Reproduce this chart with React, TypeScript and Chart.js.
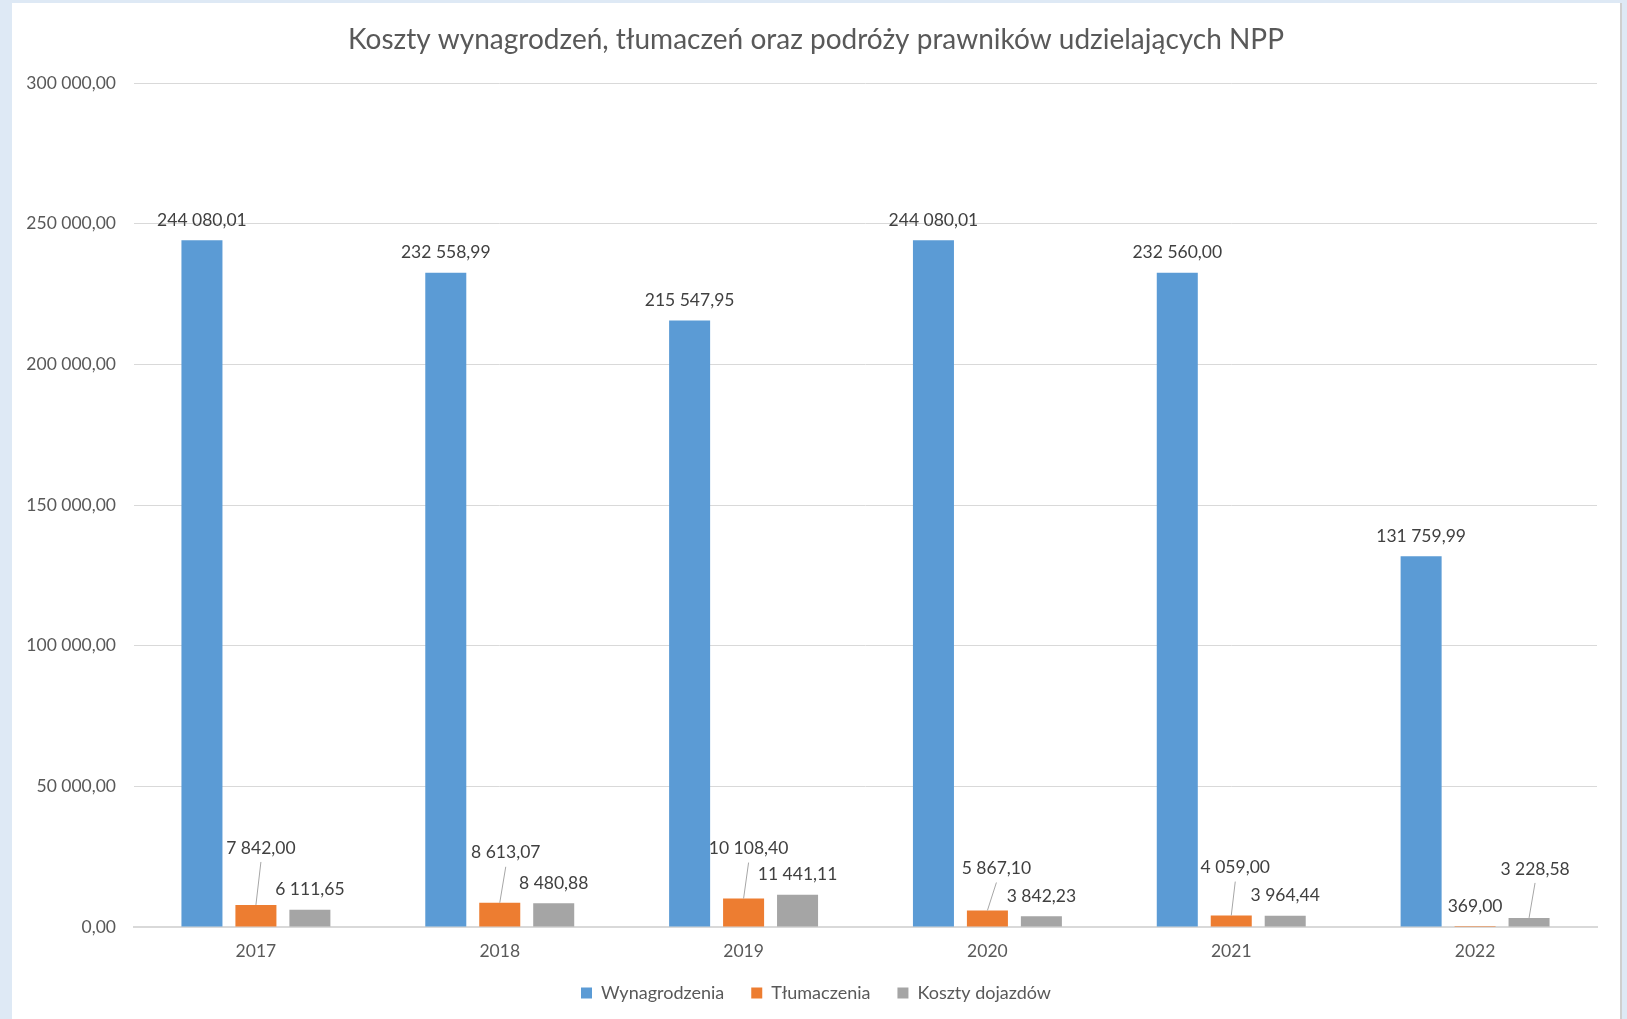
import React, { useEffect, useRef } from "react";
import { Chart, registerables } from "chart.js";

Chart.register(...registerables);

// ---------- data ----------
const chartTitle = "Koszty wynagrodzeń, tłumaczeń oraz podróży prawników udzielających NPP";
const categories = ["2017", "2018", "2019", "2020", "2021", "2022"];
const seriesNames = ["Wynagrodzenia", "Tłumaczenia", "Koszty dojazdów"];
const wynagrodzenia = [244080.01, 232558.99, 215547.95, 244080.01, 232560.0, 131759.99];
const tlumaczenia = [7842.0, 8613.07, 10108.4, 5867.1, 4059.0, 369.0];
const kosztyDojazdow = [6111.65, 8480.88, 11441.11, 3842.23, 3964.44, 3228.58];
const yMin = 0;
const yMax = 300000;
const yStep = 50000;

// ---------- styling ----------
const seriesColors = ["#5b9bd5", "#ed7d31", "#a5a5a5"];
const FONT = "Lato, 'Open Sans', sans-serif";
const AXIS_COLOR = "#595959";
const LABEL_COLOR = "#404040";
const GRID_COLOR = "#d9d9d9";

// label displacement (dx, dy from bar top) for labels moved with a leader line
const labelShifts: Record<string, [number, number]> = {
  "1-0": [5, -57],
  "1-1": [6, -50],
  "1-2": [5, -50],
  "1-3": [9, -42],
  "1-4": [4, -48],
  "2-5": [6, -49],
};

function fmtPL(v: number): string {
  const neg = v < 0;
  const [i, d] = Math.abs(v).toFixed(2).split(".");
  const g = i.replace(/\B(?=(\d{3})+(?!\d))/g, " ");
  return (neg ? "-" : "") + g + "," + d;
}

const dataLabelPlugin = {
  id: "dataLabelPlugin",
  afterDatasetsDraw(chart: any) {
    const ctx = chart.ctx;
    ctx.save();
    ctx.font = `17.5px ${FONT}`;
    ctx.fillStyle = LABEL_COLOR;
    ctx.textAlign = "center";
    ctx.textBaseline = "middle";
    chart.data.datasets.forEach((ds: any, di: number) => {
      const meta = chart.getDatasetMeta(di);
      meta.data.forEach((bar: any, i: number) => {
        const v = ds.data[i];
        const shift = labelShifts[`${di}-${i}`];
        let lx = bar.x;
        let ly = bar.y - 20;
        if (shift) {
          lx = bar.x + shift[0];
          ly = bar.y + shift[1];
          ctx.strokeStyle = "#a6a6a6";
          ctx.lineWidth = 1;
          ctx.beginPath();
          ctx.moveTo(lx, ly + 14);
          ctx.lineTo(bar.x, bar.y);
          ctx.stroke();
        }
        ctx.fillText(fmtPL(v), lx, ly);
      });
    });
    ctx.restore();
  },
};

export default function App() {
  const canvasRef = useRef<HTMLCanvasElement | null>(null);

  useEffect(() => {
    if (!canvasRef.current) return;
    const seriesData = [wynagrodzenia, tlumaczenia, kosztyDojazdow];
    const chart = new Chart(canvasRef.current, {
      type: "bar",
      data: {
        labels: categories,
        datasets: seriesNames.map((name, k) => ({
          label: name,
          data: seriesData[k],
          backgroundColor: seriesColors[k],
          borderWidth: 0,
          categoryPercentage: 0.664,
          barPercentage: 0.76,
          yAxisID: "y",
        })),
      },
      options: {
        responsive: false,
        maintainAspectRatio: false,
        animation: false,
        layout: { padding: { left: 0, right: 0, top: 0, bottom: 7 } },
        plugins: {
          title: {
            display: true,
            text: chartTitle,
            color: AXIS_COLOR,
            font: { family: FONT, size: 28, weight: "normal" },
            padding: { top: 20, bottom: 26.4 },
          },
          legend: {
            position: "bottom",
            labels: {
              boxWidth: 11,
              boxHeight: 11,
              padding: 27,
              color: AXIS_COLOR,
              font: { family: FONT, size: 18 },
            },
          },
          tooltip: { enabled: false },
        },
        scales: {
          x: {
            grid: { display: false, drawTicks: false },
            border: { display: true, color: GRID_COLOR, width: 2 },
            ticks: { color: AXIS_COLOR, font: { family: FONT, size: 17.5 }, padding: 14 },
            afterFit: (s: any) => {
              s.height = 30;
            },
          },
          y: {
            min: yMin,
            max: yMax,
            ticks: {
              stepSize: yStep,
              color: AXIS_COLOR,
              font: { family: FONT, size: 17.5 },
              padding: 18,
              callback: (v: any) => fmtPL(Number(v)),
            },
            grid: { color: GRID_COLOR, lineWidth: 1, drawTicks: false },
            border: { display: false },
            afterFit: (s: any) => {
              s.width = 122;
            },
          },
          yRight: {
            position: "right",
            display: true,
            grid: { display: false, drawTicks: false },
            border: { display: false },
            ticks: { display: false },
            afterFit: (s: any) => {
              s.width = 23;
            },
          },
        },
      },
      plugins: [dataLabelPlugin],
    } as any);
    return () => chart.destroy();
  }, []);

  return (
    <div style={{ position: "fixed", left: 0, top: 0, width: 1627, height: 1019, background: "#dee9f5", overflow: "hidden" }}>
      <div
        style={{
          position: "absolute",
          left: 12,
          top: 3,
          width: 1608,
          height: 1016,
          background: "#ffffff",
          borderRight: "2px solid #cfcfcf",
        }}
      >
        <canvas ref={canvasRef} width={1608} height={1016} style={{ display: "block", width: 1608, height: 1016 }} />
      </div>
    </div>
  );
}
